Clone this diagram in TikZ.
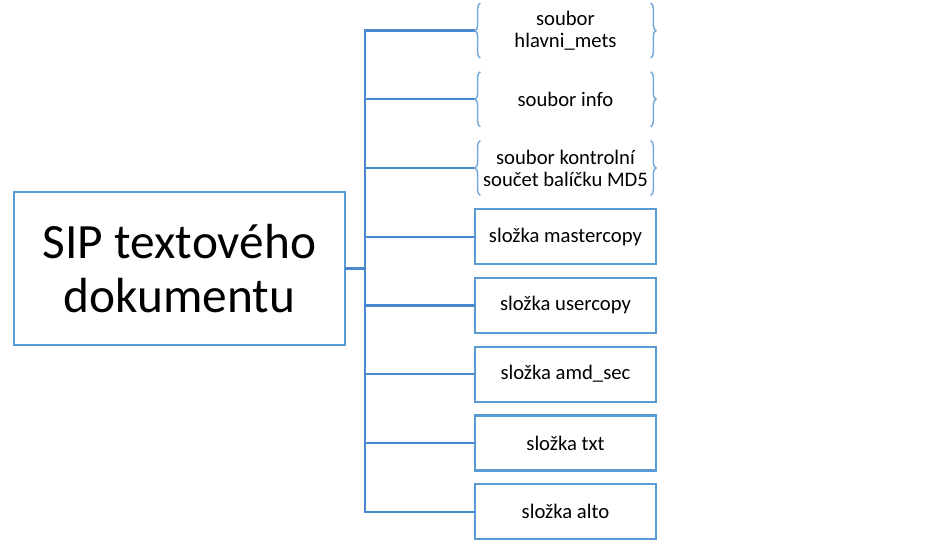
\documentclass[tikz,border=0pt]{standalone}
\usepackage{fontspec}
\setmainfont{Carlito}
\usetikzlibrary{positioning, decorations.pathreplacing}
\definecolor{smartblue}{HTML}{5B9BD5}
\definecolor{linkblue}{HTML}{4A89D0}

\begin{document}
\begin{tikzpicture}[
        font=\fontsize{15.5}{16.5}\selectfont,
        node distance=10.3pt,
        every node/.style={align=center, inner sep=0pt, outer sep=0pt},
        root/.style={
            rectangle, draw=smartblue, line width=1.6pt,
            minimum width=248pt, minimum height=114.75pt,
            font=\fontsize{37}{40}\selectfont
        },
        folder/.style={
            rectangle, draw=smartblue, line width=1.6pt,
            minimum width=135.75pt, minimum height=41.25pt
        },
        file/.style={
            rectangle,
            minimum width=135.75pt, minimum height=41.25pt
        },
        brc/.style={decorate, decoration={brace, amplitude=4pt}, smartblue!85, line width=1.1pt},
        link/.style={linkblue, line width=1.7pt}
    ]
    \useasboundingbox (0,0) rectangle (706.5pt,-405.75pt);
    \node[file] (mets) at (424.1pt,-22.9pt) {soubor\\hlavni\_mets};
    \node[file, below=of mets] (info) {soubor info};
    \node[file, below=of info] (md5) {soubor kontrolní\\součet balíčku MD5};
    \node[folder, below=of md5] (master) {složka mastercopy};
    \node[folder, below=of master] (user) {složka usercopy};
    \node[folder, below=of user] (amd) {složka amd\_sec};
    \node[folder, below=of amd] (txt) {složka txt};
    \node[folder, below=of txt] (alto) {složka alto};
    \node[root] (sip) at (134.6pt,-201.4pt) {SIP textového\\dokumentu};
    \coordinate (bus) at ([xshift=15pt]sip.east);
    \foreach \n in {mets,info,md5,master,user,amd,txt,alto}
        \draw[link] (sip.east) -- (bus) |- (\n.west);
    \foreach \n in {mets,info,md5}{
        \draw[brc] ([xshift=4pt]\n.south west) -- ([xshift=4pt]\n.north west);
        \draw[brc] ([xshift=-4pt]\n.north east) -- ([xshift=-4pt]\n.south east);
    }
\end{tikzpicture}
\end{document}
